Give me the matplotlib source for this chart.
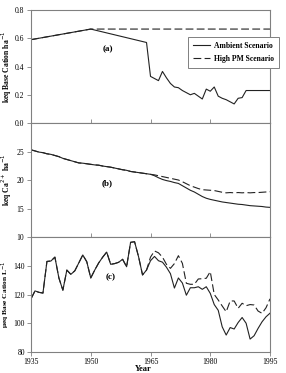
import matplotlib
matplotlib.use("Agg")
import matplotlib.pyplot as plt

plt.rcParams['font.family'] = ['Liberation Serif', 'DejaVu Serif']

# panel (a): base cation pool
a_years = [1935, 1950, 1964, 1965, 1966, 1967, 1968, 1969, 1970, 1971, 1972,
           1973, 1974, 1975, 1976, 1977, 1978, 1979, 1980, 1981, 1982, 1983,
           1984, 1985, 1986, 1987, 1988, 1989, 1990, 1995]
a_ambient = [0.59, 0.665, 0.57, 0.33, 0.315, 0.30, 0.365, 0.32, 0.28, 0.255,
             0.25, 0.23, 0.215, 0.20, 0.21, 0.19, 0.17, 0.24, 0.225, 0.255,
             0.19, 0.175, 0.165, 0.15, 0.135, 0.175, 0.18, 0.23, 0.23, 0.23]
a_pm_years = [1935, 1950, 1995]
a_pm = [0.59, 0.665, 0.665]

# panel (b): exchangeable Ca
years = list(range(1935, 1996))
b_ambient = [25.3, 25.1, 24.9, 24.8, 24.6, 24.5, 24.3, 24.1, 23.8, 23.6,
             23.4, 23.2, 23.0, 22.95, 22.85, 22.75, 22.65, 22.6, 22.45, 22.35,
             22.25, 22.1, 21.95, 21.8, 21.7, 21.5, 21.4, 21.3, 21.2, 21.1,
             21.0, 20.75, 20.4, 20.1, 19.9, 19.75, 19.55, 19.4, 19.0, 18.6,
             18.2, 17.9, 17.5, 17.1, 16.8, 16.6, 16.45, 16.3, 16.15, 16.05,
             15.95, 15.85, 15.75, 15.7, 15.6, 15.5, 15.45, 15.4, 15.35, 15.25,
             15.2]
b_pm = b_ambient[:29] + [
             21.1, 21.0, 20.9, 20.75, 20.6, 20.45, 20.3, 20.15, 20.0, 19.7,
             19.35, 19.0, 18.75, 18.5, 18.3, 18.25, 18.2, 18.15, 18.0, 17.85,
             17.75, 17.8, 17.75, 17.8, 17.75, 17.8, 17.75, 17.8, 17.8, 17.85,
             17.9, 17.95]

# panel (c): stream base cations
c_ambient = [117, 122.5, 121.5, 121, 143, 143.3, 146, 131.5, 123, 137,
             134, 136.5, 142, 147.5, 142.8, 131.5, 137, 142, 146, 149.5,
             141, 141.5, 142.4, 144.5, 139.3, 156.3, 156.7, 146.3, 133.6, 137,
             143.5, 146.5, 143.5, 142.5, 139, 134.5, 124.5, 131.5, 128, 119.5,
             124.7, 124.7, 125.4, 123.6, 125.4, 120.8, 113, 109, 97.5, 91.8,
             97, 96, 100.5, 104, 100, 89, 91.3, 96.4, 101, 104.5,
             107]
c_pm = c_ambient[:30] + [
             146, 150.3, 149, 146, 141, 138.2, 141.5, 147, 141.7, 127.8,
             127.1, 127.1, 130.8, 131, 131.3, 135.9, 120, 116.2, 112, 108,
             115.5, 115.5, 110.4, 113.9, 112.2, 113, 112.7, 108.5, 106.9, 110.8,
             117]

xticks = [1935, 1950, 1965, 1980, 1995]
spine_col = '#808080'
line_col = '#222222'

fig = plt.figure(figsize=(2.86, 3.73), dpi=100)
ax_a = fig.add_axes([0.1084, 0.6702, 0.8357, 0.3030])
ax_b = fig.add_axes([0.1084, 0.3646, 0.8357, 0.3056])
ax_c = fig.add_axes([0.1084, 0.0563, 0.8357, 0.3083])

ax_a.plot(a_pm_years, a_pm, color=line_col, lw=0.8, ls=(0, (7, 3)),
          label='High PM Scenario')
ax_a.plot(a_years, a_ambient, color=line_col, lw=0.8, label='Ambient Scenario')
ax_b.plot(years, b_pm, color=line_col, lw=0.8, ls=(0, (7, 3)))
ax_b.plot(years, b_ambient, color=line_col, lw=0.8)
ax_c.plot(years, c_pm, color=line_col, lw=0.8, ls=(0, (7, 3)))
ax_c.plot(years, c_ambient, color=line_col, lw=0.8)

ax_a.set_ylim(0, 0.8)
ax_a.set_yticks([0.0, 0.2, 0.4, 0.6, 0.8])
ax_a.set_yticklabels(['0.0', '0.2', '0.4', '0.6', '0.8'])
ax_b.set_ylim(10, 30)
ax_b.set_yticks([10, 15, 20, 25])
ax_c.set_ylim(80, 160)
ax_c.set_yticks([80, 100, 120, 140])

for ax in (ax_a, ax_b, ax_c):
    ax.set_xlim(1935, 1995)
    ax.set_xticks(xticks)
    for s in ax.spines.values():
        s.set_color(spine_col)
        s.set_linewidth(0.8)
    ax.tick_params(axis='y', direction='out', length=3, width=0.6,
                   color=spine_col, labelsize=5.5, pad=2)
    ax.tick_params(axis='x', length=3, width=0.6, color=spine_col,
                   labelsize=5.5)
ax_a.tick_params(axis='x', direction='in', labelbottom=False)
ax_b.tick_params(axis='x', direction='in', labelbottom=False)
ax_c.tick_params(axis='x', direction='out', pad=1)
ax_c.tick_params(axis='y', pad=1.5)

lab_kw = dict(fontweight='bold', va='center')
ax_a.set_ylabel('keq Base Cation ha$^{-1}$', fontsize=5.5, **lab_kw)
ax_b.set_ylabel('keq Ca$^{2+}$ ha$^{-1}$', fontsize=5.5, **lab_kw)
ax_c.set_ylabel('\u03bceq Base Cation L$^{-1}$', fontsize=5.3, **lab_kw)
ax_a.yaxis.set_label_coords(-0.100, 0.5)
ax_b.yaxis.set_label_coords(-0.100, 0.5)
ax_c.yaxis.set_label_coords(-0.104, 0.5)
fig.text(0.5, 0.0, 'Year', ha='center', va='bottom', fontsize=6,
         fontweight='bold')

pan_kw = dict(fontsize=6.5, fontweight='bold', ha='center', va='center')
ax_a.text(1954.4, 0.524, '(a)', **pan_kw)
ax_b.text(1954.2, 19.5, '(b)', **pan_kw)
ax_c.text(1954.9, 132.2, '(c)', **pan_kw)

handles, labels = ax_a.get_legend_handles_labels()
leg = ax_a.legend(handles[::-1], labels[::-1], loc='upper left',
                  bbox_to_anchor=(0.657, 0.765), fancybox=False,
                  framealpha=1, edgecolor=spine_col, borderpad=0.65,
                  handlelength=2.2, handletextpad=0.6, labelspacing=0.7,
                  borderaxespad=0, prop={'size': 5.5, 'weight': 'bold'})
leg.get_frame().set_linewidth(0.7)
leg.set_clip_on(False)

fig.savefig('out.png', dpi=100)
